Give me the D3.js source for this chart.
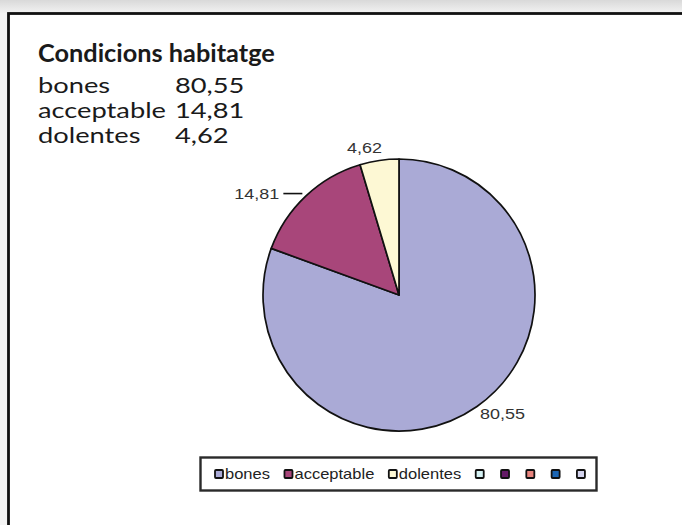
<!DOCTYPE html>
<html>
<head>
<meta charset="utf-8">
<script src="https://d3js.org/d3.v7.min.js"></script>
<style>
  body { margin: 0; background: #fff; }
  svg { display: block; }
</style>
</head>
<body>
<div id="chart"></div>
<script>

// data
var categories = ["bones", "acceptable", "dolentes"];
var values = [80.55, 14.81, 4.62];
var title = "Condicions habitatge";
// the legend also shows the 5 unused series of the default palette
var legendNames = ["bones", "acceptable", "dolentes", "", "", "", "", ""];
var palette = ["#aaaad6", "#a8467a", "#fdf8d4", "#d6f2f4", "#641a66", "#e8847e", "#1c66b4", "#d4d4ee"];

var W = 682, H = 525;
var ca = d3.formatLocale({decimal: ",", thousands: ".", grouping: [3], currency: ["", "€"]});
var fmt = ca.format(".2f");

var svg = d3.select("#chart").append("svg")
    .attr("width", W)
    .attr("height", H);

// page background / frame
var grad = svg.append("defs").append("linearGradient")
    .attr("id", "topShade").attr("x1", 0).attr("y1", 0).attr("x2", 0).attr("y2", 1);
grad.append("stop").attr("offset", "0%").attr("stop-color", "#d9d9d9");
grad.append("stop").attr("offset", "100%").attr("stop-color", "#f2f2f2");

svg.append("rect").attr("width", W).attr("height", H).attr("fill", "#f4f4f4");
svg.append("rect").attr("width", W).attr("height", 13).attr("fill", "url(#topShade)");
svg.append("rect").attr("x", 8.5).attr("y", 13.5).attr("width", W + 10).attr("height", H + 10)
    .attr("fill", "#fff").attr("stroke", "#111").attr("stroke-width", 2.8);

// table in the top left corner (the scan is stretched a bit horizontally)
var tbl = svg.append("g").attr("transform", "translate(38,62)")
    .style("font-family", "Lato, 'Open Sans', sans-serif")
    .attr("fill", "#1a1a1a");

var tt = tbl.append("text")
    .attr("font-size", 24)
    .attr("font-weight", "bold")
    .text(title);
var tsx = 237 / tt.node().getComputedTextLength();
tt.attr("transform", "scale(" + tsx + ",1)");

var rows = tbl.selectAll("g.row")
  .data(categories)
  .enter().append("g")
    .attr("class", "row")
    .attr("transform", function(d, i) { return "translate(0," + (31 + i * 25) + ")"; });

var names = rows.append("text")
    .attr("font-size", 21)
    .text(function(d) { return d; });

var widest = d3.max(names.nodes(), function(n) { return n.getComputedTextLength(); });
var sx = 128 / widest;
names.attr("transform", "scale(" + sx + ",1)");

rows.append("text")
    .attr("transform", "translate(137,0) scale(" + sx + ",1)")
    .attr("font-size", 21)
    .text(function(d, i) { return fmt(values[i]); });

// pie
var cx = 399, cy = 295, r = 136;

var color = d3.scaleOrdinal().domain(legendNames.map(function(d, i) { return i; })).range(palette);

var pie = d3.pie().sort(null).value(function(d) { return d; });
var arcs = pie(values);

var arc = d3.arc().innerRadius(0).outerRadius(r);
var outer = d3.arc().innerRadius(r + 2).outerRadius(r + 2);

var gPie = svg.append("g").attr("transform", "translate(" + cx + "," + cy + ")");

gPie.selectAll("path.slice")
  .data(arcs)
  .enter().append("path")
    .attr("class", "slice")
    .attr("d", arc)
    .attr("fill", function(d, i) { return color(i); })
    .attr("stroke", "#111")
    .attr("stroke-width", 1.7)
    .attr("stroke-linejoin", "round");

// data labels (Excel style, outside the pie)
var labels = gPie.selectAll("g.lbl")
  .data(arcs)
  .enter().append("g")
    .attr("class", "lbl")
    .style("font-family", "'Liberation Sans', Arial, sans-serif")
    .attr("font-size", 14.5)
    .attr("fill", "#333");

labels.each(function(d, i) {
  var g = d3.select(this);
  var p = outer.centroid(d);
  var right = p[0] > 0, below = p[1] > 0;
  var tx = p[0], ty = p[1];
  if (i === 1) {
    // leader line for the middle slice
    g.append("line")
      .attr("x1", p[0] - 2).attr("y1", p[1] - 1)
      .attr("x2", p[0] - 21).attr("y2", p[1] - 1)
      .attr("stroke", "#111").attr("stroke-width", 1.6);
    tx = p[0] - 25;
    ty = p[1] + 4;
  } else {
    tx = right ? p[0] + 2 : p[0] + 3;
    ty = below ? p[1] + 11 : p[1] - 5;
  }
  g.append("text")
    .attr("transform", "translate(" + tx + "," + ty + ") scale(1.24,1)")
    .attr("text-anchor", right ? "start" : "end")
    .text(fmt(d.data));
});

// legend
var leg = svg.append("g").attr("transform", "translate(200,457)");

leg.append("rect")
    .attr("x", 0.5).attr("y", 0.5)
    .attr("width", 396).attr("height", 33)
    .attr("fill", "#fff")
    .attr("stroke", "#2a2a2a")
    .attr("stroke-width", 2.4);

var lx = 15;
legendNames.forEach(function(name, i) {
  var item = leg.append("g").attr("transform", "translate(" + lx + ",13)");
  item.append("rect")
    .attr("width", 8).attr("height", 8)
    .attr("rx", 1)
    .attr("fill", color(i))
    .attr("stroke", "#111")
    .attr("stroke-width", 1.8);
  var w = 0;
  if (name) {
    var t = item.append("text")
      .attr("transform", "translate(10,9) scale(1.18,1)")
      .style("font-family", "'Liberation Sans', Arial, sans-serif")
      .attr("font-size", 14)
      .attr("fill", "#222")
      .text(name);
    w = t.node().getComputedTextLength() * 1.18 + 10;
  }
  lx += name ? w + 14.5 : 25.3;
});

</script>
</body>
</html>
